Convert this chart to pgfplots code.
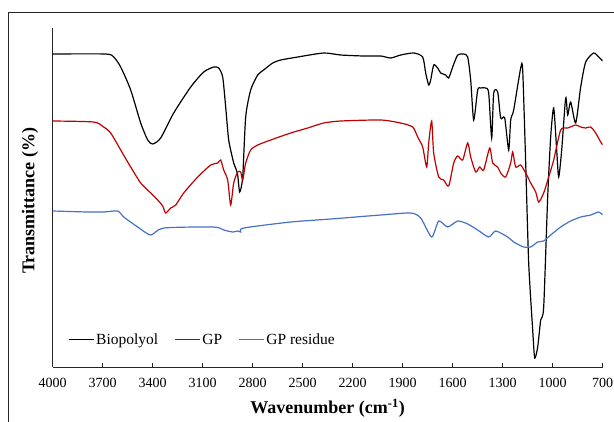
\documentclass[border=0pt]{standalone}
\usepackage{fontspec}
\setmainfont{Liberation Serif}
\usepackage{pgfplots}
\pgfplotsset{compat=1.18}
\definecolor{gpred}{HTML}{C00000}
\definecolor{gpblue}{HTML}{4472C4}
\begin{document}
\begin{tikzpicture}
\useasboundingbox (0,0) rectangle (614pt,421pt);
\draw[line width=0.9pt, black!85] (8pt,-3pt) -- (8pt,409pt) -- (617pt,409pt);
\begin{axis}[
  at={(52.7pt,54pt)}, anchor=south west,
  width=550pt, height=339pt, scale only axis,
  x dir=reverse, xmin=700, xmax=4000,
  y dir=reverse, ymin=28, ymax=367,
  axis x line*=bottom, axis y line*=left,
  axis line style={line width=1pt, black!85},
  xtick={700,1000,...,4000},
  ytick=\empty,
  tick align=inside, major tick length=4pt,
  tick style={line width=0.8pt, black!85},
  /pgf/number format/assume math mode=true,
  /pgf/number format/1000 sep={},
  xticklabel style={font=\fontsize{14}{14}\selectfont, yshift=-8pt},
  xlabel={\textbf{Wavenumber (cm\textsuperscript{-1})}},
  ylabel={\textbf{Transmittance (\%)}},
  label style={font=\fontsize{18}{18}\selectfont},
  xlabel style={at={(axis description cs:0.5,-0.121)}, anchor=center},
  ylabel style={at={(axis description cs:-0.041,0.49)}, anchor=center},
  legend style={at={(axis description cs:0.022,0.08)}, anchor=west, draw=none, fill=none,
    font=\fontsize{15.5}{15.5}\selectfont, /tikz/every even column/.append style={column sep=14pt}},
  legend columns=3,
  legend image code/.code={\draw[#1] (0pt,0pt) -- (25pt,0pt);},
  every axis plot/.append style={line width=1.2pt, smooth, tension=0.4},
]
\addplot[black] coordinates {
(4000,54) (3682,54) (3634,57) (3592,67) (3532,90) (3472,123) (3430,140) (3400,144) (3352,138)
(3274,113) (3172,87) (3094,72) (3034,67) (3004,68) (2980,77) (2962,107) (2944,140) (2914,163)
(2902,168) (2890,175) (2878,192) (2860,177) (2842,117) (2812,90) (2770,75) (2734,70) (2680,63)
(2632,60) (2530,57) (2374,53) (2272,55) (2134,56) (2032,56) (1972,58) (1912,55) (1834,53)
(1780,57) (1762,73) (1744,85) (1732,80) (1714,65) (1690,68) (1672,73) (1642,75) (1624,78)
(1600,67) (1570,55) (1534,54) (1510,57) (1492,80) (1474,120) (1450,90) (1432,88) (1402,88)
(1384,93) (1366,138) (1354,93) (1330,92) (1312,118) (1288,118) (1264,150) (1252,120) (1234,110)
(1192,68) (1180,70) (1162,163) (1144,263) (1120,330) (1108,358) (1090,347) (1072,320) (1054,307)
(1030,197) (1012,137) (994,108) (976,150) (964,177) (946,150) (922,98) (910,115) (892,102)
(862,123) (832,87) (802,62) (754,53) (724,57) (700,61)
};
\addlegendentry{Biopolyol}
\addplot[gpred] coordinates {
(4000,121) (3754,122) (3694,127) (3652,133) (3592,150) (3532,167) (3472,183) (3412,193) (3370,200)
(3340,206) (3322,213) (3292,208) (3262,205) (3214,193) (3130,177) (3052,165) (3010,163) (2992,160)
(2974,170) (2950,180) (2932,205) (2914,183) (2890,172) (2872,172) (2860,180) (2842,163) (2812,150)
(2770,145) (2692,140) (2572,133) (2470,128) (2374,123) (2272,121) (2032,120) (1912,123) (1840,127)
(1810,137) (1780,147) (1756,167) (1744,143) (1726,121) (1714,153) (1684,177) (1654,180) (1624,186)
(1594,163) (1570,156) (1540,160) (1510,143) (1492,157) (1462,172) (1438,167) (1414,170) (1378,148)
(1360,163) (1330,167) (1312,173) (1282,177) (1252,163) (1240,152) (1222,167) (1192,165) (1162,173)
(1132,183) (1102,192) (1084,202) (1054,193) (1024,177) (994,160) (952,130) (910,128) (862,125)
(832,127) (802,128) (772,127) (742,133) (712,142) (700,145)
};
\addlegendentry{GP}
\addplot[gpblue] coordinates {
(4000,211) (3790,212) (3694,212) (3610,211) (3574,217) (3490,227) (3412,235) (3334,228) (3034,227)
(2974,230) (2920,232) (2890,231) (2872,232) (2854,228) (2572,222) (2332,219) (2032,215) (1852,213)
(1792,218) (1726,237) (1684,221) (1630,227) (1570,221) (1510,224) (1450,230) (1384,237) (1342,231)
(1270,237) (1234,242) (1174,247) (1132,247) (1090,242) (1054,241) (1012,235) (952,227) (892,221)
(832,217) (772,215) (724,212) (700,215)
};
\addlegendentry{GP residue}
\end{axis}
\end{tikzpicture}
\end{document}
